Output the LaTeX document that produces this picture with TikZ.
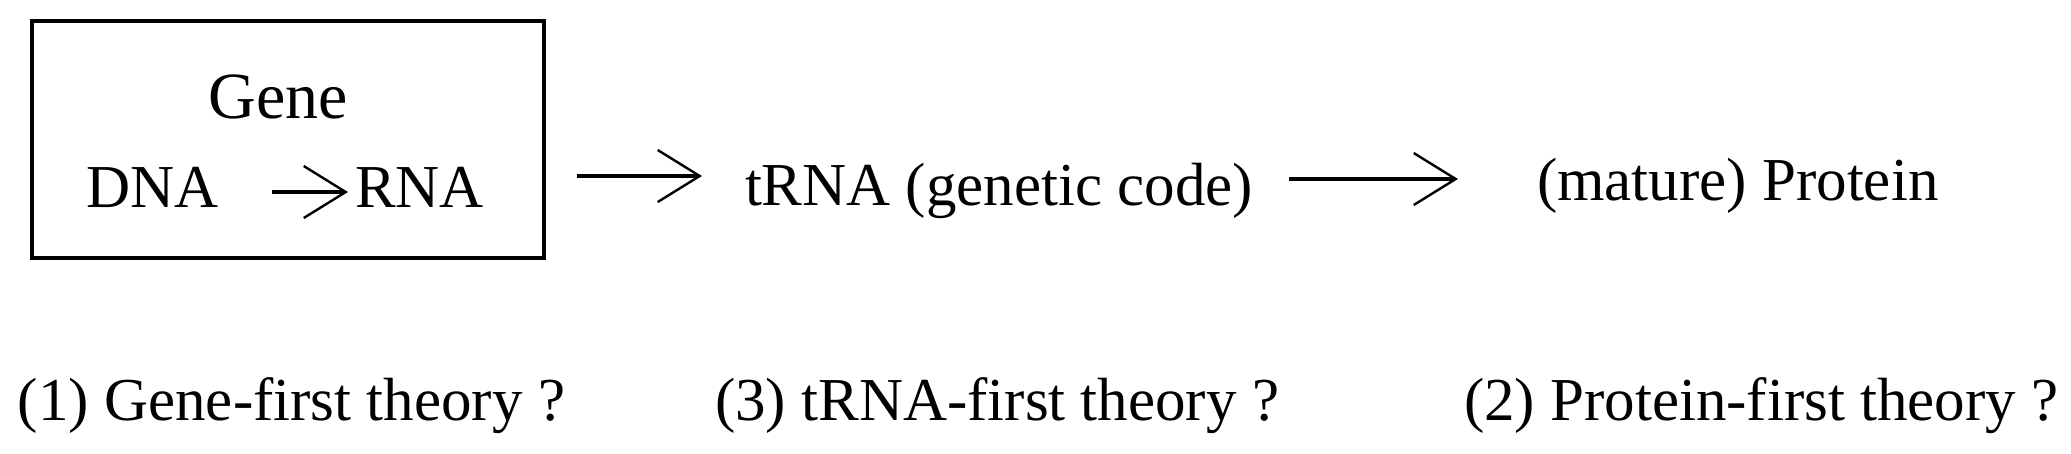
\documentclass[tikz,border=0pt]{standalone}
\usepackage{fontspec}
\setmainfont{Liberation Serif}
\usetikzlibrary{arrows.meta,positioning}

\begin{document}
\begin{tikzpicture}[
    x=0.25pt, y=-0.25pt,
    label/.style={
        inner sep=0pt,
        font=\fontsize{15.25}{18}\selectfont
    },
    theory/.style={
        label,
        anchor=base west
    },
    genebox/.style={
        draw,
        line width=0.9pt,
        minimum width=128pt,
        minimum height=59.25pt
    },
    >={Straight Barb[length=10.5pt,width=13pt,line width=0.6pt]},
    every path/.style={line width=1pt}
    ]
\useasboundingbox (0,0) rectangle (2071,453);

% gene box
\node[genebox] (box) at (288,139.5) {};
\node[label,anchor=base,font=\fontsize{16.5}{19}\selectfont] (gene) at (278,118) {Gene};
\node[label,anchor=base west] (dna) at (84,207) {DNA};
\node[label,anchor=base west] (rna) at (353,207) {RNA};
\draw[->] ([shift={(52,-15)}]dna.base east) -- ([shift={(-5,-15)}]rna.base west);

% main chain
\node[label,anchor=base west] (trna) at (743,205) {tRNA (genetic code)};
\node[label,anchor=base west] (protein) at (1535,200) {(mature) Protein};
\draw[->] ([shift={(31,36.5)}]box.east) -- ([shift={(-41,-29)}]trna.base west);
\draw[->] ([shift={(34,-26)}]trna.base east) -- ([shift={(-77,-21)}]protein.base west);

% theories
\foreach \x/\n/\t in {16/1/Gene,713/3/tRNA,1462/2/Protein}
\node[theory] (theory\n) at (\x,420) {(\n) \t-first theory ?};
\end{tikzpicture}
\end{document}
